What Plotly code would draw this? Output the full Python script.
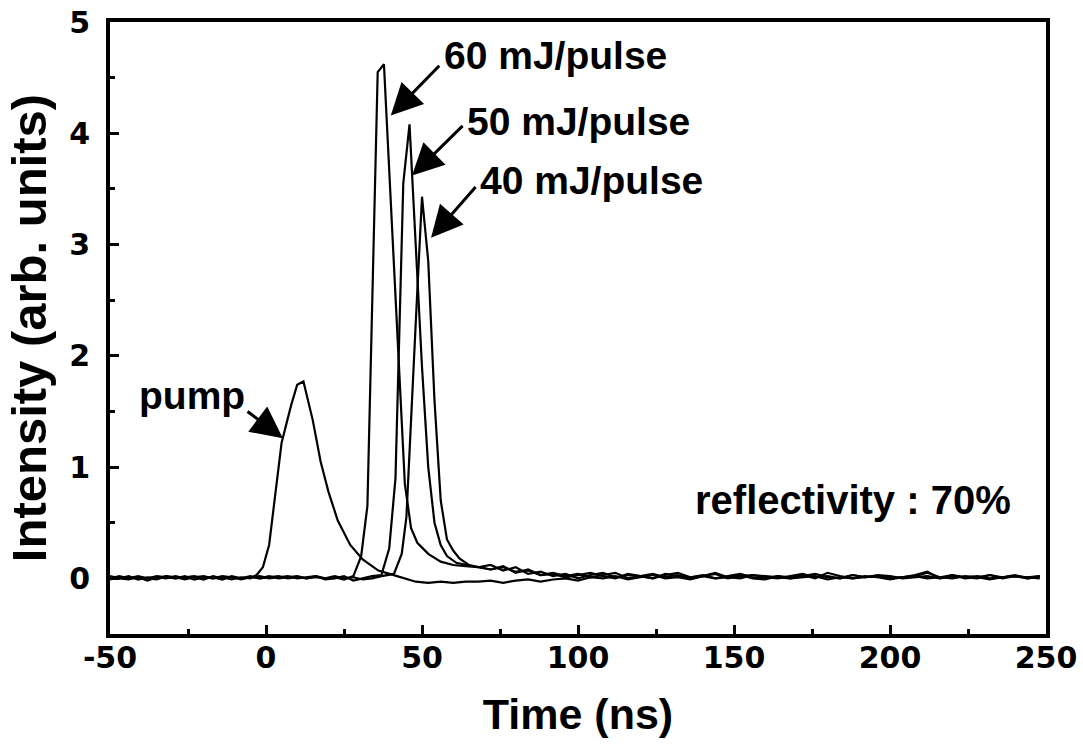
import plotly.graph_objects as go

# ---------------- data ----------------
pump_time = [-50, -47, -44, -41, -38, -35, -32, -29, -26, -23, -20, -17, -14, -11, -8, -5,
             -3, -1, 1, 3, 5, 8, 10, 12, 15, 17.5, 20, 23, 27, 31, 36, 42, 48,
             52, 56, 60, 64, 68, 72, 76, 80, 84, 88, 92, 96, 100, 104, 108, 112, 116, 120,
             124, 128, 132, 136, 140, 144, 148, 152, 156, 160, 164, 168, 172, 176, 180,
             184, 188, 192, 196, 200, 204, 208, 212, 216, 220, 224, 228, 232, 236, 240, 244, 248]
pump_int = [0.01, 0.00, 0.02, -0.01, 0.01, 0.00, 0.02, 0.01, -0.01, 0.01, 0.02, 0.00, 0.01, -0.01, 0.01, 0.00,
            0.03, 0.10, 0.30, 0.75, 1.22, 1.55, 1.74, 1.77, 1.42, 1.05, 0.78, 0.52, 0.30, 0.17, 0.07, 0.02, -0.03,
            -0.04, -0.03, -0.04, -0.03, -0.03, -0.02, -0.04, -0.02, -0.01, -0.03, -0.01, 0.00, -0.02, 0.01, 0.00, 0.02, -0.01, 0.01,
            0.03, 0.00, 0.01, -0.01, 0.02, 0.00, 0.01, 0.03, 0.00, -0.01, 0.02, 0.00, 0.01, 0.02, -0.01,
            0.01, 0.00, 0.02, 0.01, -0.01, 0.01, 0.02, 0.00, 0.01, 0.03, 0.00, 0.01, -0.01, 0.01, 0.02, 0.00, 0.01]

e60_time = [-50, -47, -44, -41, -38, -35, -32, -29, -26, -23, -20, -17, -14, -11, -8, -5, -2, 1, 4, 7,
            10, 13, 16, 19, 22, 25, 28, 30.5, 32.5, 35.8, 37.8, 44.5, 46.5, 48.5, 52, 56, 60, 64, 68,
            72, 76, 80, 84, 88, 92, 96, 100, 104, 108, 112, 116, 120, 124, 128, 132, 136, 140, 144,
            148, 152, 156, 160, 164, 168, 172, 176, 180, 184, 188, 192, 196, 200, 204, 208, 212, 216,
            220, 224, 228, 232, 236, 240, 244, 248]
e60_int = [0.00, 0.02, 0.00, 0.01, -0.02, 0.01, 0.00, 0.02, 0.00, 0.01, -0.01, 0.02, 0.00, 0.01, 0.00, 0.02, 0.00, 0.01, 0.02, 0.00,
           0.01, 0.00, 0.02, 0.00, 0.01, -0.01, 0.02, 0.20, 0.65, 4.55, 4.62, 0.85, 0.45, 0.32, 0.22, 0.15, 0.12, 0.11, 0.10,
           0.08, 0.10, 0.06, 0.07, 0.03, 0.04, 0.01, 0.03, 0.05, 0.02, 0.00, 0.04, 0.02, 0.00, 0.03, 0.05, 0.01, 0.02, 0.04,
           0.00, 0.02, 0.03, 0.01, 0.00, 0.02, 0.04, 0.01, 0.02, 0.00, 0.03, 0.01, 0.02, 0.00, 0.01, 0.02, 0.05, 0.01,
           0.00, 0.02, 0.01, 0.03, 0.00, 0.02, 0.01, 0.02]

e50_time = [-50, -47, -44, -41, -38, -35, -32, -29, -26, -23, -20, -17, -14, -11, -8, -5, -2, 1, 4, 7,
            10, 13, 16, 19, 22, 25, 28, 31, 34, 37, 39.5, 41.5, 44, 46, 48, 50, 52, 54, 56, 58, 61, 64, 68,
            72, 76, 80, 84, 88, 92, 96, 100, 104, 108, 112, 116, 120, 124, 128, 132, 136, 140, 144,
            148, 152, 156, 160, 164, 168, 172, 176, 180, 184, 188, 192, 196, 200, 204, 208, 212, 216,
            220, 224, 228, 232, 236, 240, 244, 248]
e50_int = [0.02, 0.00, -0.01, 0.01, 0.00, 0.02, 0.01, 0.00, 0.02, -0.01, 0.01, 0.00, 0.02, 0.01, -0.01, 0.01, 0.02, 0.00, 0.01, 0.02,
           0.00, 0.01, 0.02, -0.01, 0.00, 0.02, -0.02, 0.00, 0.02, 0.03, 0.27, 0.90, 3.55, 4.08, 3.00, 1.90, 1.00, 0.50, 0.30, 0.20, 0.14, 0.12, 0.10,
           0.12, 0.07, 0.10, 0.04, 0.06, 0.02, 0.04, 0.00, 0.03, 0.05, 0.01, 0.03, 0.02, 0.00, 0.04, 0.02, 0.01, 0.03, 0.00,
           0.02, 0.04, 0.01, 0.00, 0.02, 0.01, 0.03, 0.00, 0.05, 0.02, 0.00, 0.01, 0.03, 0.02, 0.00, 0.01, 0.02, 0.00,
           0.03, 0.01, 0.02, 0.00, 0.01, 0.03, 0.00, 0.02]

e40_time = [-50, -47, -44, -41, -38, -35, -32, -29, -26, -23, -20, -17, -14, -11, -8, -5, -2, 1, 4, 7,
            10, 13, 16, 19, 22, 25, 28, 31, 34, 37, 41, 43.5, 45, 48, 50, 52, 54, 56, 58, 60, 62, 65, 68,
            72, 76, 80, 84, 88, 92, 96, 100, 104, 108, 112, 116, 120, 124, 128, 132, 136, 140, 144,
            148, 152, 156, 160, 164, 168, 172, 176, 180, 184, 188, 192, 196, 200, 204, 208, 212, 216,
            220, 224, 228, 232, 236, 240, 244, 248]
e40_int = [-0.01, 0.01, 0.00, 0.02, 0.00, -0.01, 0.02, 0.00, 0.01, 0.02, 0.00, 0.01, -0.01, 0.02, 0.00, 0.01, 0.00, 0.02, 0.00, 0.01,
           0.02, 0.00, 0.01, 0.00, 0.02, 0.00, 0.01, -0.01, 0.00, 0.02, 0.04, 0.22, 0.55, 2.30, 3.43, 2.85, 1.60, 0.70, 0.35, 0.25, 0.18, 0.12, 0.10,
           0.08, 0.11, 0.05, 0.08, 0.03, 0.05, 0.02, 0.04, 0.01, 0.03, 0.05, 0.00, 0.02, 0.04, 0.01, 0.03, 0.00, 0.02, 0.05,
           0.01, 0.00, 0.03, 0.02, 0.01, 0.00, 0.02, 0.04, 0.01, 0.00, 0.03, 0.01, 0.02, 0.00, 0.01, 0.03, 0.06, 0.00,
           0.02, 0.01, 0.00, 0.03, 0.01, 0.02, 0.01, 0.00]

x_range = [-50, 250]
y_range = [-0.5, 5]
x_ticks = [-50, 0, 50, 100, 150, 200, 250]
x_ticklabels = ["-50", "0", "50", "100", "150", "200", "250"]
x_minor = [-25, 25, 75, 125, 175, 225]
y_ticks = [0, 1, 2, 3, 4, 5]
y_ticklabels = ["0", "1", "2", "3", "4", "5"]
y_minor = [0.5, 1.5, 2.5, 3.5, 4.5]

labels = ["60 mJ/pulse", "50 mJ/pulse", "40 mJ/pulse", "pump"]
label_pos = [(56.3, 4.70), (63.8, 4.11), (68.0, 3.58), (-41.3, 1.64)]
arrow_tail = [(56.0, 4.62), (63.5, 4.08), (67.6, 3.53), (-6.4, 1.51)]
arrow_tip = [(40.0, 4.16), (46.8, 3.62), (52.9, 3.06), (5.4, 1.26)]
note_text = "reflectivity : 70%"
note_pos = (137.0, 0.70)

# ---------------- figure ----------------
FONT = "Arial, Liberation Sans, sans-serif"
TICKFONT = "DejaVu Sans, sans-serif"
fig = go.Figure()
for t, v in [(pump_time, pump_int), (e60_time, e60_int), (e50_time, e50_int), (e40_time, e40_int)]:
    fig.add_trace(go.Scatter(x=t, y=v, mode="lines", line=dict(color="black", width=2.2),
                             showlegend=False, hoverinfo="skip", cliponaxis=True))

for txt, (x, y) in zip(labels, label_pos):
    fig.add_annotation(x=x, y=y, xref="x", yref="y", text=txt, showarrow=False,
                       xanchor="left", yanchor="middle",
                       font=dict(family=FONT, size=39, color="black", weight="bold"))
for (ax, ay), (x, y) in zip(arrow_tail, arrow_tip):
    fig.add_annotation(x=x, y=y, ax=ax, ay=ay, xref="x", yref="y", axref="x", ayref="y",
                       text="", showarrow=True, arrowhead=2, arrowsize=2.1, arrowwidth=3,
                       arrowcolor="black", standoff=0, startstandoff=0)
fig.add_annotation(x=note_pos[0], y=note_pos[1], xref="x", yref="y", text=note_text, showarrow=False,
                   xanchor="left", yanchor="middle",
                   font=dict(family=FONT, size=40, color="black", weight="bold"))

axis_common = dict(showline=True, linewidth=4, linecolor="black", mirror=True,
                   showgrid=False, zeroline=False, ticks="inside", ticklen=9, tickwidth=3,
                   tickcolor="black", automargin=False,
                   tickfont=dict(family=TICKFONT, size=30, color="black", weight="bold"))
fig.update_xaxes(range=x_range, tickmode="array", tickvals=x_ticks, ticktext=x_ticklabels,
                 minor=dict(tickvals=x_minor, ticks="inside", ticklen=5,
                            tickwidth=3, tickcolor="black"),
                 title=dict(text="Time (ns)", standoff=26,
                            font=dict(family=FONT, size=43, color="black", weight="bold")),
                 ticklabelstandoff=-6, **axis_common)
fig.update_yaxes(range=y_range, tickmode="array", tickvals=y_ticks, ticktext=y_ticklabels,
                 minor=dict(tickvals=y_minor, ticks="inside", ticklen=5,
                            tickwidth=3, tickcolor="black"),
                 title=dict(text="Intensity (arb. units)", standoff=8,
                            font=dict(family=FONT, size=49, color="black", weight="bold")),
                 ticklabelstandoff=10, **axis_common)
fig.update_layout(width=1083, height=749, paper_bgcolor="white", plot_bgcolor="white",
                  margin=dict(l=110, r=37, t=22, b=115))
fig.write_html("out.html")
